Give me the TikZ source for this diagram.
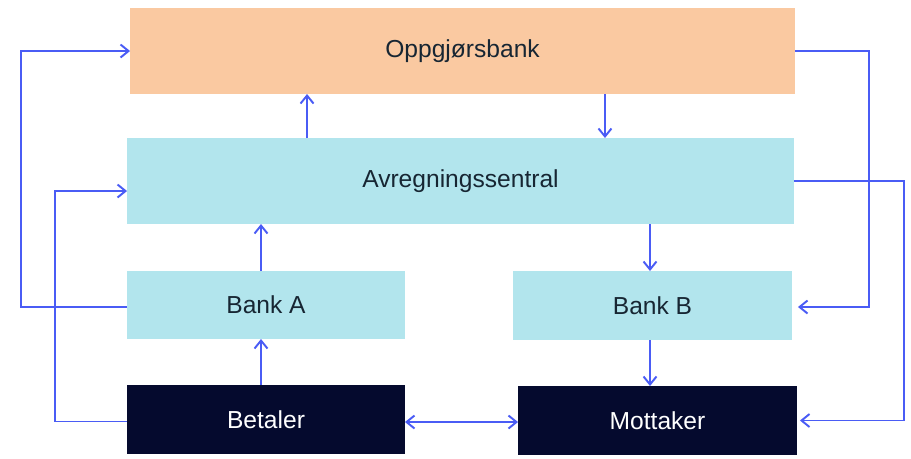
\documentclass[tikz,border=0pt]{standalone}
\usepackage{fontspec}
\setmainfont{Liberation Sans}
\usetikzlibrary{arrows.meta}
\usetikzlibrary{positioning}
\definecolor{peachColor}{rgb}{0.98,0.79,0.63}
\definecolor{cyanColor}{rgb}{0.70,0.90,0.93}
\definecolor{navyColor}{rgb}{0.02,0.04,0.18}
\definecolor{arrowColor}{rgb}{0.29,0.36,0.96}
\definecolor{textColor}{rgb}{0.09,0.15,0.20}
\tikzset{
  mybox/.style={rectangle, inner sep=0pt, outer sep=0pt, font=\fontsize{14}{16}\selectfont},
  mybank/.style={mybox, fill=cyanColor, text=textColor},
  mycustomer/.style={mybox, fill=navyColor, text=white},
  mytip/.tip={Straight Barb[length=1.6mm,width=2.6mm]},
  myarrow/.style={color=arrowColor, line width=1.1pt, -mytip}
}
\begin{document}
\begin{tikzpicture}[x=0.02cm, y=-0.02cm]
\useasboundingbox (0,0) rectangle (911,458);

\node[mybox, fill=peachColor, text=textColor, minimum width=13.3cm, minimum height=1.72cm] (opp) at (462.5,51) {Oppgjørsbank};
\node[mybank, minimum width=13.34cm, minimum height=1.72cm] (avr) at (460.5,181) {Avregningssentral};
\node[mybank, minimum width=5.56cm, minimum height=1.36cm] (banka) at (266,305) {Bank A};
\node[mybank, minimum width=5.58cm, minimum height=1.38cm] (bankb) at (652.5,305.5) {Bank B};
\node[mycustomer, minimum width=5.56cm, minimum height=1.38cm] (betaler) at (266,419.5) {Betaler};
\node[mycustomer, minimum width=5.58cm, minimum height=1.38cm] (mottaker) at (657.5,420.5) {Mottaker};

\draw[myarrow] ([yshift=-0.04cm]banka.west) -- ++(-106,0) |- (opp.west);
\draw[myarrow] ([yshift=-0.04cm]betaler.west) -- ++(-72,0) |- ([yshift=-0.2cm]avr.west);
\draw[myarrow] ([xshift=-3.07cm]avr.north) -- ([xshift=-3.07cm]avr.north |- opp.south);
\draw[myarrow] ([xshift=2.85cm]opp.south) -- ([xshift=2.85cm]opp.south |- avr.north);
\draw[myarrow] ([xshift=-0.1cm]banka.north) -- ([xshift=-0.1cm]banka.north |- avr.south);
\draw[myarrow] ([xshift=-0.1cm]betaler.north) -- ([xshift=-0.1cm]betaler.north |- banka.south);
\draw[myarrow] ([xshift=-0.05cm]bankb.north |- avr.south) -- ([xshift=-0.05cm]bankb.north);
\draw[myarrow] ([xshift=-0.05cm]bankb.south) -- ([xshift=-0.05cm]bankb.south |- mottaker.north);
\draw[myarrow, mytip-mytip] ([yshift=-0.05cm]betaler.east) -- ([yshift=-0.05cm]betaler.east -| mottaker.west);
\draw[myarrow] (opp.east) -- ++(74,0) |- ([xshift=0.12cm, yshift=-0.03cm]bankb.east);
\draw[myarrow] (avr.east) -- ++(110,0) |- ([xshift=0.06cm]mottaker.east);
\end{tikzpicture}
\end{document}
